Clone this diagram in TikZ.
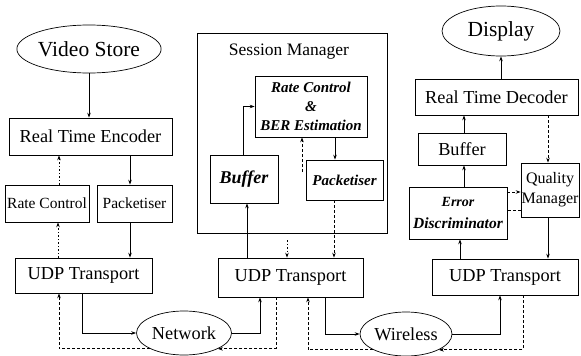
\documentclass[tikz,border=0pt]{standalone}
\usepackage{fontspec}
\setmainfont{Liberation Serif}
\usetikzlibrary{arrows.meta,shapes.geometric,calc}
\tikzset{
  box/.style={draw, line width=0.7pt, inner sep=0pt, align=center},
  oval/.style={draw, line width=0.7pt, ellipse, inner sep=0pt},
  con/.style={line width=0.7pt, -{Stealth[length=5pt,width=3.5pt]}},
  dcon/.style={con, dash pattern=on 3pt off 2pt},
  tcon/.style={con, dash pattern=on 1.5pt off 2pt},
  huge/.style={font=\fontsize{21.5}{24}\selectfont},
  big/.style={font=\fontsize{18.3}{20}\selectfont},
  mid/.style={font=\fontsize{15.5}{20}\selectfont},
  bi/.style={font=\fontsize{15}{19}\selectfont\bfseries\itshape},
}
\begin{document}
\begin{tikzpicture}[x=1pt,y=-1pt]
\useasboundingbox (0,0) rectangle (581,356);
% left column
\node[oval, huge, minimum width=117pt, minimum height=48pt] (vs) at (89,49) {Video Store};
\node[box, big, minimum width=163pt, minimum height=37pt] (enc) at (90.5,136.5) {Real Time Encoder};
\node[box, mid, minimum width=84pt, minimum height=37pt] (rcl) at (47,203.5) {Rate Control};
\node[box, mid, minimum width=75pt, minimum height=37pt] (pkl) at (134.5,203.5) {Packetiser};
\node[box, big, minimum width=137pt, minimum height=35pt] (udpl) at (83.5,275.5) {UDP Transport};
\node[oval, big, minimum width=95pt, minimum height=44pt] (net) at (184,333) {Network};
% session manager
\node[box, minimum width=190pt, minimum height=200pt] (sm) at (292,133) {};
\node[font=\fontsize{17.5}{20}\selectfont, inner sep=0pt] (smt) at (289,52) {Session Manager};
\node[box, bi, minimum width=112pt, minimum height=61pt] (rcb) at (311,106.5) {Rate Control\\\&\\BER Estimation};
\node[box, font=\fontsize{18}{20}\selectfont\bfseries\itshape, minimum width=68pt, minimum height=48pt] (buf) at (244,179) {Buffer};
\node[box, bi, minimum width=77pt, minimum height=40pt] (pks) at (344.5,180) {Packetiser};
\node[box, big, minimum width=145pt, minimum height=39pt] (udpm) at (290.5,277.5) {UDP Transport};
\node[oval, big, minimum width=92pt, minimum height=44pt] (wl) at (406,334) {Wireless};
% right column
\node[oval, huge, minimum width=118pt, minimum height=50pt] (disp) at (501,31) {Display};
\node[box, big, minimum width=163pt, minimum height=36pt] (dec) at (496.5,97) {Real Time Decoder};
\node[box, big, minimum width=88pt, minimum height=32pt] (bufr) at (462,149) {Buffer};
\node[box, font=\fontsize{15.5}{22}\selectfont\bfseries\itshape, minimum width=98pt, minimum height=52pt] (ed) at (458,213) {{\fontsize{14}{16}\selectfont Error}\\Discriminator};
\node[box, font=\fontsize{16}{20}\selectfont, minimum width=58pt, minimum height=54pt] (qm) at (550,190) {Quality\\Manager};
\node[box, big, minimum width=146pt, minimum height=36pt] (udpr) at (505,277) {UDP Transport};
% free ends
\coordinate (fb) at (302,172);
\coordinate (fd) at (287,240);
% left connectors
\draw[con] (vs.south) -- (vs.south |- enc.north);
\draw[con] ([xshift=-4.5pt]pkl.north |- enc.south) -- ([xshift=-4.5pt]pkl.north);
\draw[tcon] ([xshift=12pt]rcl.north) -- ([xshift=12pt]rcl.north |- enc.south);
\draw[tcon] ([xshift=11pt]rcl.south |- udpl.north) -- ([xshift=11pt]rcl.south);
\draw[con] ([xshift=-4.5pt]pkl.south) -- ([xshift=-4.5pt]pkl.south |- udpl.north);
\draw[con] ([xshift=-1.5pt]udpl.south) |- (net.west);
\draw[dcon] (net.south west) -| ([xshift=-24.5pt]udpl.south);
\draw[con] (net.east) -| ([xshift=-30.5pt]udpm.south);
\draw[dcon] ([xshift=-14.5pt]udpm.south) |- (net.south east);
\draw[con] ([xshift=34.5pt]udpm.south) |- (wl.west);
\draw[dcon] (wl.south west) -| ([xshift=17.5pt]udpm.south);
\draw[con] (wl.east) -| ([xshift=-5pt]udpr.south);
\draw[dcon] ([xshift=18pt]udpr.south) |- (wl.south east);
% session connectors
\draw[con] ([xshift=3pt]buf.south |- udpm.north) -- ([xshift=3pt]buf.south);
\draw[con] ([xshift=-1pt]buf.north) |- (rcb.west);
\draw[dcon] (fb) -- (fb |- rcb.south);
\draw[con] ([xshift=-9.5pt]pks.north |- rcb.south) -- ([xshift=-9.5pt]pks.north);
\draw[dcon] ([xshift=-10.5pt]pks.south) -- ([xshift=-10.5pt]pks.south |- udpm.north);
\draw[tcon] (fd) -- (fd |- udpm.north);
% right connectors
\draw[con] (dec.north -| disp.south) -- (disp.south);
\draw[con] ([xshift=2pt]bufr.north) -- ([xshift=2pt]bufr.north |- dec.south);
\draw[con] ([xshift=6pt]ed.north) -- ([xshift=6pt]ed.north |- bufr.south);
\draw[con] ([xshift=2pt]ed.south |- udpr.north) -- ([xshift=2pt]ed.south);
\draw[dcon] ([xshift=-2pt]qm.north |- dec.south) -- ([xshift=-2pt]qm.north);
\draw[con] ([xshift=-2pt]qm.south) -- ([xshift=-2pt]qm.south |- udpr.north);
\draw[dcon] (ed.east |- 0,192) -- (qm.west |- 0,192);
\draw[dcon, -] (qm.west |- 0,210) -- (ed.east |- 0,210);
\end{tikzpicture}
\end{document}
